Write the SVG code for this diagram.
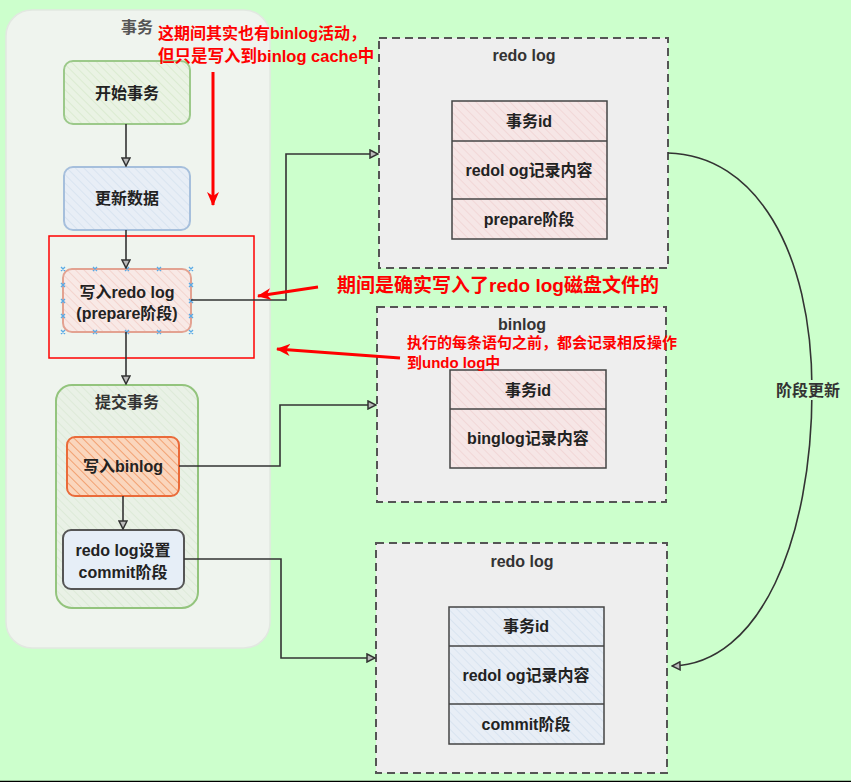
<svg xmlns="http://www.w3.org/2000/svg" width="851" height="782" viewBox="0 0 851 782">
<defs>
<style>
text{font-family:"Liberation Sans","Noto Sans CJK SC",sans-serif;font-weight:bold;}
.lbl{font-size:16px;fill:#222;text-anchor:middle;}
.ttl{font-size:16px;fill:#333;text-anchor:middle;}
.red{fill:#ff0000;text-anchor:start;}
.conn{fill:none;stroke:#333;stroke-width:1.6;}
.redarrow{fill:none;stroke:#ff0000;stroke-width:3;}
.dash{fill:#eeeeee;stroke:#555;stroke-width:2;stroke-dasharray:8 5;}
.tbl{stroke:#444;stroke-width:1.5;}
.hnd{stroke:#5aaae6;stroke-width:1.3;}
</style>
<pattern id="hGreen" width="6" height="6" patternUnits="userSpaceOnUse" patternTransform="rotate(-45)"><rect width="6" height="6" fill="#eaf3e4"/><line x1="0" y1="0" x2="0" y2="6" stroke="#d6e9cb" stroke-width="1.5"/></pattern>
<pattern id="hBlue" width="6" height="6" patternUnits="userSpaceOnUse" patternTransform="rotate(-45)"><rect width="6" height="6" fill="#e8eef6"/><line x1="0" y1="0" x2="0" y2="6" stroke="#d5e1ef" stroke-width="1.5"/></pattern>
<pattern id="hPink" width="6" height="6" patternUnits="userSpaceOnUse" patternTransform="rotate(-45)"><rect width="6" height="6" fill="#f8e9e6"/><line x1="0" y1="0" x2="0" y2="6" stroke="#f2cdc6" stroke-width="1.5"/></pattern>
<pattern id="hTblPink" width="6" height="6" patternUnits="userSpaceOnUse" patternTransform="rotate(-45)"><rect width="6" height="6" fill="#f6e6e6"/><line x1="0" y1="0" x2="0" y2="6" stroke="#f0d2d2" stroke-width="1.5"/></pattern>
<pattern id="hOrange" width="6" height="6" patternUnits="userSpaceOnUse" patternTransform="rotate(-45)"><rect width="6" height="6" fill="#fad6bd"/><line x1="0" y1="0" x2="0" y2="6" stroke="#f2a172" stroke-width="2"/></pattern>
<pattern id="hCommit" width="6" height="6" patternUnits="userSpaceOnUse" patternTransform="rotate(-45)"><rect width="6" height="6" fill="#e9f1e6"/><line x1="0" y1="0" x2="0" y2="6" stroke="#dae8d4" stroke-width="1.5"/></pattern>
<marker id="arr" viewBox="0 0 10 10" refX="9" refY="5" markerWidth="10" markerHeight="10" markerUnits="userSpaceOnUse" orient="auto"><path d="M1,1 L9,5 L1,9 Z" fill="#bbb" stroke="#333" stroke-width="1.5"/></marker>
<marker id="rarr" viewBox="0 0 14 12" refX="13" refY="6" markerWidth="14" markerHeight="12" markerUnits="userSpaceOnUse" orient="auto"><path d="M0,0 L14,6 L0,12 L4,6 Z" fill="#ff0000"/></marker>
</defs>
<rect x="0" y="0" width="851" height="782" fill="#ccffcc"/>
<line x1="0" y1="781.5" x2="851" y2="781.5" stroke="#000" stroke-width="1.5"/>

<g id="tx-container">
<rect x="6" y="10" width="264" height="638" rx="26" fill="#eff4ee" stroke="#e2e8e1" stroke-width="1.5"/>
<text class="ttl" x="137" y="33" style="fill:#555">事务</text>
</g>
<g id="start-tx">
<rect x="64" y="61" width="126" height="63" rx="9" fill="url(#hGreen)" stroke="#9cc98a" stroke-width="2"/>
<text class="lbl" x="127" y="99">开始事务</text>
</g>
<g id="update-data">
<rect x="64" y="167" width="126" height="63" rx="9" fill="url(#hBlue)" stroke="#a6bfdc" stroke-width="2"/>
<text class="lbl" x="127" y="204">更新数据</text>
</g>
<g id="write-redo">
<rect x="63" y="269" width="128" height="63" rx="9" fill="url(#hPink)" stroke="#e3a291" stroke-width="2"/>
<text class="lbl" x="127" y="298">写入redo log</text>
<text class="lbl" x="127" y="319">(prepare阶段)</text>
<g class="hnd">
<path d="M61,267l4,4m0,-4l-4,4M93,267l4,4m0,-4l-4,4M125,267l4,4m0,-4l-4,4M157,267l4,4m0,-4l-4,4M189,267l4,4m0,-4l-4,4"/>
<path d="M61,330l4,4m0,-4l-4,4M93,330l4,4m0,-4l-4,4M125,330l4,4m0,-4l-4,4M157,330l4,4m0,-4l-4,4M189,330l4,4m0,-4l-4,4"/>
<path d="M61,283l4,4m0,-4l-4,4M61,299l4,4m0,-4l-4,4M61,314l4,4m0,-4l-4,4M189,283l4,4m0,-4l-4,4M189,299l4,4m0,-4l-4,4M189,314l4,4m0,-4l-4,4"/>
</g>
</g>
<g id="highlight-box">
<rect x="49" y="236" width="205" height="122" fill="none" stroke="#ff0000" stroke-width="1.5"/>
</g>
<g id="commit-tx">
<rect x="56" y="385" width="142" height="223" rx="16" fill="url(#hCommit)" stroke="#93c47d" stroke-width="2"/>
<text class="ttl" x="127" y="408">提交事务</text>
</g>
<g id="write-binlog">
<rect x="67" y="437" width="112" height="59" rx="8" fill="url(#hOrange)" stroke="#ea6b3a" stroke-width="2"/>
<text class="lbl" x="123" y="472">写入binlog</text>
</g>
<g id="redo-commit">
<rect x="63" y="530" width="121" height="59" rx="8" fill="#e6eef7" stroke="#555" stroke-width="2"/>
<text class="lbl" x="123" y="556">redo log设置</text>
<text class="lbl" x="123" y="578">commit阶段</text>
</g>

<g id="redo-log-prepare">
<rect class="dash" x="379" y="38" width="289" height="230"/>
<text class="ttl" x="524" y="61">redo log</text>
<rect class="tbl" x="452" y="101" width="155" height="138" fill="url(#hTblPink)"/>
<line class="tbl" x1="452" y1="141" x2="607" y2="141"/>
<line class="tbl" x1="452" y1="199" x2="607" y2="199"/>
<text class="lbl" x="529" y="127">事务id</text>
<text class="lbl" x="529" y="176">redol og记录内容</text>
<text class="lbl" x="529" y="225">prepare阶段</text>
</g>
<g id="binlog">
<rect class="dash" x="377" y="307" width="289" height="195"/>
<text class="ttl" x="522" y="330">binlog</text>
<rect class="tbl" x="450" y="370" width="156" height="98" fill="url(#hTblPink)"/>
<line class="tbl" x1="450" y1="409" x2="606" y2="409"/>
<text class="lbl" x="528" y="396">事务id</text>
<text class="lbl" x="528" y="444">binglog记录内容</text>
</g>
<g id="redo-log-commit">
<rect class="dash" x="376" y="543" width="291" height="230"/>
<text class="ttl" x="522" y="567">redo log</text>
<rect class="tbl" x="449" y="607" width="155" height="137" fill="url(#hBlue)"/>
<line class="tbl" x1="449" y1="646" x2="604" y2="646"/>
<line class="tbl" x1="449" y1="704" x2="604" y2="704"/>
<text class="lbl" x="526" y="632">事务id</text>
<text class="lbl" x="526" y="681">redol og记录内容</text>
<text class="lbl" x="526" y="730">commit阶段</text>
</g>

<g id="connectors">
<path class="conn" d="M126,124 L126,166" marker-end="url(#arr)"/>
<path class="conn" d="M126,230 L126,268" marker-end="url(#arr)"/>
<path class="conn" d="M126,332 L126,384" marker-end="url(#arr)"/>
<path class="conn" d="M123,496 L123,529" marker-end="url(#arr)"/>
<path class="conn" d="M191,300 L286,300 L286,154 L378,154" marker-end="url(#arr)"/>
<path class="conn" d="M179,466 L280,466 L280,405 L376,405" marker-end="url(#arr)"/>
<path class="conn" d="M184,559 L281,559 L281,658 L375,658" marker-end="url(#arr)"/>
<path class="conn" d="M668,153 C755,155 812,250 812,390 C812,540 760,664 672,666" marker-end="url(#arr)"/>
<rect x="774" y="380" width="68" height="20" fill="#ccffcc"/>
<text class="lbl" x="808" y="396" style="fill:#333">阶段更新</text>
</g>

<g id="annotations">
<text class="red" x="158" y="39" font-size="16">这期间其实也有binlog活动，</text>
<text class="red" x="158" y="62" font-size="16.5">但只是写入到binlog cache中</text>
<path class="redarrow" d="M213,72 L213,205" marker-end="url(#rarr)"/>
<path class="redarrow" d="M318,287 L258,296" marker-end="url(#rarr)"/>
<text class="red" x="337" y="292" font-size="19">期间是确实写入了redo log磁盘文件的</text>
<path class="redarrow" d="M400,358 L277,349" marker-end="url(#rarr)"/>
<text class="red" x="407" y="348" font-size="15">执行的每条语句之前，都会记录相反操作</text>
<text class="red" x="407" y="368" font-size="15">到undo log中</text>
</g>
</svg>
